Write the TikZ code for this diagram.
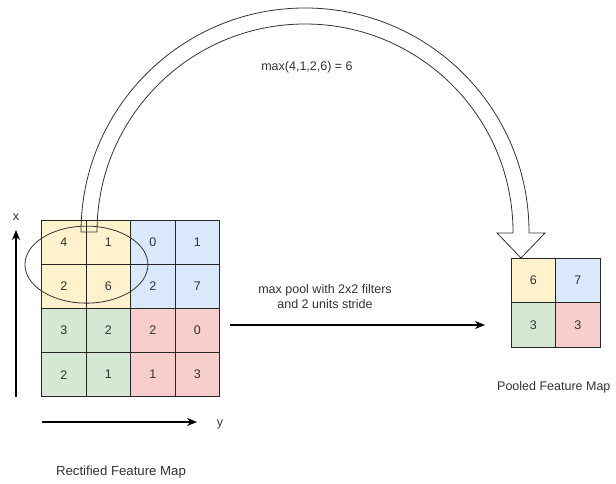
\documentclass[tikz,border=0pt]{standalone}
\usepackage{fontspec}
\setmainfont{Liberation Sans}
\usetikzlibrary{arrows.meta,positioning,shapes.geometric}

\definecolor{inkgray}{HTML}{333333}
\definecolor{cellyellow}{HTML}{FFF2CC}
\definecolor{cellblue}{HTML}{DAE8FC}
\definecolor{cellgreen}{HTML}{D5E8D4}
\definecolor{cellred}{HTML}{F8CECC}
% one colour per 2x2 pooling window
\colorlet{q11}{cellyellow}
\colorlet{q12}{cellblue}
\colorlet{q21}{cellgreen}
\colorlet{q22}{cellred}

\tikzset{
  cell/.style={draw=black!85, line width=0.9pt, minimum width=44.5pt, minimum height=44.2pt,
    inner sep=0pt, text=inkgray, font=\fontsize{12.5}{15}\selectfont},
  caption/.style={text=inkgray, inner sep=0pt, font=\fontsize{12.5}{15}\selectfont},
  mapname/.style={caption, font=\fontsize{13.2}{15}\selectfont},
  flow/.style={line width=1.4pt, -{Stealth[length=10pt,width=8pt]}},
  hollow/.style={draw=inkgray, line width=0.8pt, line join=miter},
}

\begin{document}
\begin{tikzpicture}[x=1pt,y=1pt]
  \useasboundingbox (0,0) rectangle (616,484);

  % rectified feature map, 4x4
  \foreach \vals [count=\r] in {{4,1,0,1},{2,6,2,7},{3,2,2,0},{2,1,1,3}}
    \foreach \v [count=\c] in \vals {
      \pgfmathtruncatemacro\qr{(\r+1)/2}
      \pgfmathtruncatemacro\qc{(\c+1)/2}
      \node[cell, fill=q\qr\qc] (r\r\c) at ({41.5+44.5*\c-22.25},{264-44.2*\r+22.1}) {\v};
    }

  % pooled feature map, 2x2
  \foreach \vals [count=\r] in {{6,7},{3,3}}
    \foreach \v [count=\c] in \vals {
      \node[cell, fill=q\r\c, minimum height=44.5pt] (p\r\c) at ({511+44.5*\c-22.25},{226-44.5*\r+22.25}) {\v};
    }

  % first pooling window
  \node[draw=inkgray, line width=0.8pt, ellipse, minimum width=123pt, minimum height=77pt,
    inner sep=0pt] (window) at (r11.south east) {};

  % big hollow arrow from the window to the pooled cell
  \draw[hollow] (81,252) arc[start angle=180, end angle=0, radius=224]
    -- (529,251) -- (545,251) -- (521,226) -- (497,251) -- (513,251)
    -- (513,252) arc[start angle=0, end angle=180, radius=208] -- cycle;
  \node[caption] (maxval) at (307,417) {max(4,1,2,6) = 6};

  % axes
  \coordinate (xaxis-from) at (16,87);
  \coordinate (xaxis-to) at (16,254);
  \coordinate (yaxis-from) at (42,62);
  \coordinate (yaxis-to) at (197,62);
  \draw[flow] (xaxis-from) -- (xaxis-to);
  \draw[flow] (yaxis-from) -- (yaxis-to);
  \node[caption] (xlab) at (16,267) {x};
  \node[caption] (ylab) at (220,60) {y};

  % pooling step
  \coordinate (pool-from) at (230,159);
  \coordinate (pool-to) at (485,159);
  \draw[flow] (pool-from) -- (pool-to);
  \node[caption, align=center] (pool-label) at (325,187) {max pool with 2x2 filters\\and 2 units stride};

  \node[mapname] (rect-name) at (121,12) {Rectified Feature Map};
  \node[caption, anchor=west] (pool-name) at (497,97) {Pooled Feature Map};
\end{tikzpicture}
\end{document}
